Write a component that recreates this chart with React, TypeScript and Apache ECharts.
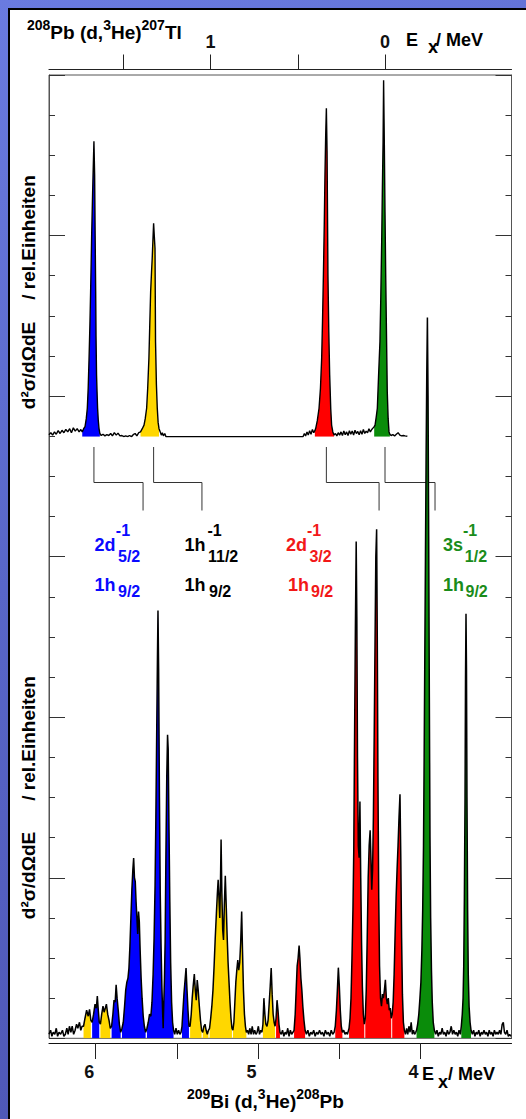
import React, { useEffect, useRef } from 'react';
import * as echarts from 'echarts';

// 209Bi(d,3He)208Pb spectrum: [Ex (MeV), counts in tick units]
const lowerSpectrum: [number, number][] = [
  [6.288,0.1],[6.278,0.2],[6.27,0.05],[6.262,0.15],[6.252,0.1],[6.243,0.25],[6.235,0.05],[6.226,0.15],[6.216,0.1],[6.205,0.2],[6.196,0.05],[6.187,0.1],[6.178,0.25],[6.17,0.1],[6.162,0.3],[6.153,0.15],[6.145,0.3],[6.136,0.1],[6.127,0.2],[6.118,0.35],[6.11,0.25],[6.1,0.4],[6.092,0.2],[6.084,0.3],
  [6.075,0.3],[6.066,0.5],[6.056,0.7],[6.046,0.55],[6.038,0.72],[6.03,0.45],
  [6.022,0.4],[6.013,0.6],[6.004,0.85],[5.996,0.75],[5.99,1.05],[5.984,0.7],[5.978,0.4],
  [5.971,0.35],[5.963,0.6],[5.955,0.8],[5.948,0.65],[5.941,0.75],[5.934,0.85],[5.926,0.6],[5.918,0.45],[5.91,0.25],
  [5.902,0.3],[5.894,0.6],[5.887,0.95],[5.88,0.9],[5.874,1.33],[5.868,1.0],[5.861,0.7],[5.854,0.35],[5.846,0.15],
  [5.838,0.25],[5.83,0.4],[5.822,0.8],[5.815,1.2],[5.808,1.4],[5.801,1.5],[5.795,1.75],[5.789,2.3],[5.783,3.0],[5.777,3.7],[5.771,4.2],[5.766,4.49],[5.761,4.0],[5.756,3.9],[5.751,3.4],[5.746,3.0],[5.741,2.6],[5.736,3.16],[5.731,2.9],[5.726,2.2],[5.72,1.5],[5.714,1.0],[5.707,0.55],[5.7,0.3],[5.692,0.15],
  [5.684,0.25],[5.676,0.4],[5.668,0.6],[5.66,0.55],[5.653,0.9],[5.646,1.6],[5.64,2.5],[5.634,3.8],[5.629,5.5],[5.624,7.6],[5.619,9.6],[5.616,10.66],[5.612,9.2],[5.607,6.0],[5.602,3.6],[5.597,2.3],[5.592,1.3],[5.587,0.6],[5.584,0.25],[5.58,0.9],[5.576,1.5],[5.572,2.4],[5.567,4.6],[5.562,6.5],[5.557,7.56],[5.553,7.2],[5.548,5.2],[5.543,3.4],[5.538,1.9],[5.532,0.9],[5.526,0.4],[5.52,0.2],
  [5.513,0.1],[5.505,0.25],[5.497,0.1],[5.489,0.2],[5.481,0.1],[5.474,0.15],
  [5.468,0.3],[5.462,0.7],[5.456,1.1],[5.45,1.4],[5.443,1.75],[5.437,1.2],[5.431,0.7],[5.425,0.3],
  [5.418,0.3],[5.411,0.6],[5.405,1.0],[5.399,1.3],[5.392,1.6],[5.386,1.2],[5.38,0.95],[5.374,1.45],[5.368,1.2],[5.361,0.8],[5.354,0.45],[5.347,0.2],
  [5.34,0.15],[5.333,0.3],[5.326,0.35],[5.319,0.2],[5.312,0.1],[5.305,0.2],
  [5.298,0.25],[5.291,0.5],[5.284,0.8],[5.277,1.2],[5.27,1.8],[5.263,2.5],[5.256,3.1],[5.25,3.6],[5.245,3.95],[5.24,3.5],[5.235,3.0],[5.231,3.8],[5.227,4.95],[5.222,3.6],[5.217,2.7],[5.212,2.45],[5.207,3.3],[5.201,4.05],[5.196,3.4],[5.19,2.6],[5.184,1.9],[5.178,1.4],[5.172,0.9],[5.166,0.5],[5.16,0.25],
  [5.154,0.2],[5.148,0.4],[5.142,0.9],[5.136,1.4],[5.13,1.7],[5.124,1.95],[5.118,1.7],[5.112,1.9],[5.106,2.4],[5.1,3.16],[5.095,2.2],[5.089,1.2],[5.083,0.6],[5.077,0.3],[5.071,0.15],
  [5.064,0.2],[5.057,0.1],[5.05,0.25],[5.042,0.1],[5.035,0.3],[5.027,0.1],[5.02,0.2],[5.012,0.1],[5.005,0.15],[4.997,0.3],[4.99,0.1],[4.982,0.2],[4.975,0.15],
  [4.969,0.35],[4.963,1.0],[4.957,0.6],[4.951,0.35],[4.944,0.3],[4.937,0.45],[4.93,0.9],[4.924,1.3],[4.918,1.75],[4.912,1.1],[4.906,0.6],[4.9,0.4],[4.894,0.3],
  [4.888,0.5],[4.882,0.95],[4.876,0.7],[4.87,0.35],[4.864,0.15],
  [4.856,0.1],[4.848,0.2],[4.84,0.05],[4.832,0.15],[4.824,0.1],[4.816,0.25],[4.808,0.05],[4.8,0.2],[4.792,0.1],[4.784,0.15],
  [4.777,0.2],[4.77,0.6],[4.764,1.2],[4.758,1.8],[4.752,2.0],[4.746,2.31],[4.741,2.0],[4.735,1.5],[4.729,1.2],[4.723,0.8],[4.716,0.45],[4.709,0.2],
  [4.701,0.1],[4.692,0.2],[4.683,0.05],[4.674,0.15],[4.665,0.1],[4.656,0.2],[4.647,0.05],[4.638,0.15],[4.629,0.1],[4.62,0.2],[4.611,0.1],[4.602,0.15],[4.593,0.05],[4.584,0.2],[4.575,0.1],[4.566,0.15],[4.557,0.05],[4.548,0.2],[4.539,0.1],[4.53,0.15],
  [4.523,0.3],[4.516,0.7],[4.51,1.2],[4.504,1.76],[4.498,1.3],[4.492,0.7],[4.486,0.3],[4.479,0.15],
  [4.471,0.2],[4.463,0.1],[4.455,0.15],[4.448,0.1],
  [4.438,0.25],[4.432,0.5],[4.426,1.0],[4.42,2.0],[4.414,3.2],[4.409,4.67],[4.404,7.5],[4.399,10.2],[4.394,12.38],[4.39,10.5],[4.386,7.0],[4.381,4.8],[4.376,4.5],[4.371,5.9],[4.366,4.0],[4.361,2.4],[4.356,1.3],[4.35,0.6],[4.344,0.35],
  [4.338,0.5],[4.332,1.2],[4.326,2.5],[4.32,4.0],[4.314,4.8],[4.308,5.18],[4.303,4.5],[4.298,3.7],[4.293,4.2],[4.288,5.5],[4.283,7.5],[4.278,9.8],[4.273,12.0],[4.268,12.68],[4.264,10.0],[4.26,6.5],[4.255,3.5],[4.25,1.8],[4.244,1.0],[4.238,0.8],[4.232,1.1],[4.226,1.0],[4.22,1.2],[4.214,1.46],[4.208,1.0],[4.202,0.85],[4.196,1.0],[4.19,0.7],[4.184,0.75],[4.178,0.5],
  [4.172,0.6],[4.166,0.9],[4.16,1.6],[4.154,2.6],[4.148,3.5],[4.142,4.2],[4.136,4.8],[4.13,5.5],[4.124,6.08],[4.119,4.5],[4.114,2.5],[4.109,1.1],[4.103,0.4],[4.097,0.2],
  [4.09,0.1],[4.083,0.25],[4.076,0.1],[4.069,0.3],[4.062,0.15],[4.055,0.4],[4.048,0.1],[4.041,0.2],[4.034,0.1],[4.027,0.15],
  [4.022,0.2],[4.015,0.35],[4.008,0.6],[4.001,1.0],[3.995,1.4],[3.989,2.2],[3.984,3.2],[3.979,4.8],[3.975,7.0],[3.971,9.5],[3.967,12.0],[3.963,14.5],[3.959,16.5],[3.955,17.96],[3.951,16.0],[3.947,12.5],[3.943,8.5],[3.939,5.0],[3.935,3.0],[3.93,1.7],[3.925,0.9],[3.919,0.4],[3.912,0.2],
  [3.904,0.1],[3.896,0.2],[3.888,0.05],[3.88,0.15],[3.872,0.1],[3.864,0.25],[3.856,0.1],[3.848,0.15],[3.84,0.05],[3.832,0.2],[3.824,0.1],[3.816,0.15],[3.808,0.3],[3.8,0.1],[3.792,0.2],[3.784,0.1],[3.776,0.15],[3.768,0.05],[3.76,0.2],[3.752,0.1],
  [3.746,0.3],[3.74,0.6],[3.735,1.0],[3.731,1.8],[3.727,3.5],[3.723,6.0],[3.72,9.0],[3.717,10.58],[3.714,9.2],[3.711,6.0],[3.707,3.2],[3.703,1.6],[3.698,0.8],[3.692,0.4],[3.686,0.2],
  [3.678,0.1],[3.67,0.2],[3.662,0.05],[3.654,0.15],[3.646,0.1],[3.638,0.2],[3.63,0.05],[3.622,0.15],[3.614,0.1],[3.606,0.2],[3.598,0.1],[3.59,0.15],[3.582,0.05],[3.574,0.2],[3.566,0.1],[3.558,0.15],[3.55,0.05],[3.542,0.2],[3.534,0.1],[3.526,0.15],[3.518,0.1],[3.51,0.2],[3.502,0.1],[3.494,0.35],[3.487,0.4],[3.48,0.15],[3.472,0.1],[3.464,0.2],[3.456,0.05],[3.448,0.1],[3.44,0.05],
];

// energy ranges [from, to, multiplet] that are shaded in the lower spectrum
const lowerBands: [number, number, string][] = [
  [6.075, 6.03, 'y'], [6.022, 5.978, 'b'], [5.971, 5.91, 'y'], [5.902, 5.846, 'b'],
  [5.838, 5.692, 'b'], [5.684, 5.52, 'b'], [5.468, 5.425, 'b'], [5.418, 5.347, 'y'],
  [5.34, 5.305, 'y'], [5.298, 5.16, 'y'], [5.154, 5.071, 'y'], [4.969, 4.894, 'y'],
  [4.888, 4.864, 'r'], [4.777, 4.709, 'r'], [4.523, 4.479, 'r'], [4.438, 4.344, 'r'],
  [4.338, 4.178, 'r'], [4.172, 4.097, 'r'], [4.022, 3.912, 'g'], [3.746, 3.686, 'g'],
];

// 208Pb(d,3He)207Tl spectrum: [Ex (MeV), counts in tick units]
const upperSpectrum: [number, number][] = [
  [1.926,0.05],[1.915,0.1],[1.905,0.04],[1.894,0.12],[1.884,0.06],[1.873,0.15],[1.862,0.08],[1.851,0.16],[1.84,0.1],[1.829,0.18],[1.818,0.12],[1.807,0.2],[1.797,0.1],[1.786,0.22],[1.775,0.14],[1.764,0.2],[1.753,0.12],[1.743,0.18],
  [1.735,0.12],[1.727,0.2],[1.719,0.25],[1.712,0.45],[1.706,0.71],[1.701,1.2],[1.696,1.95],[1.691,2.8],[1.687,3.62],[1.684,4.3],[1.681,5.03],[1.677,5.8],[1.673,6.53],[1.668,7.37],[1.664,6.53],[1.661,5.0],[1.658,3.62],[1.656,2.5],[1.653,1.54],[1.65,1.1],[1.647,0.71],[1.643,0.4],[1.639,0.21],[1.634,0.08],
  [1.626,0.03],[1.616,0.06],[1.605,0.02],[1.594,0.05],[1.583,0.03],[1.572,0.08],[1.562,0.02],[1.551,0.1],[1.54,0.04],[1.53,0.09],[1.519,0.02],[1.508,0.03],[1.497,0.0],[1.486,0.02],[1.475,0.0],[1.464,0.03],[1.453,0.0],[1.443,0.05],[1.432,0.08],[1.422,0.02],[1.411,0.1],
  [1.401,0.12],[1.391,0.2],[1.381,0.29],[1.374,0.45],[1.366,0.71],[1.36,1.2],[1.353,1.95],[1.348,2.8],[1.343,3.62],[1.338,4.1],[1.334,4.45],[1.33,4.9],[1.326,5.32],[1.322,5.0],[1.318,4.7],[1.315,2.37],[1.31,1.3],[1.305,0.71],[1.3,0.35],[1.295,0.2],
  [1.288,0.12],[1.282,0.04],[1.276,0.1],[1.27,0.02],[1.262,0.08],[1.255,0.0],
  [1.24,0],[0.47,0],
  [0.462,0.08],[0.455,0.02],[0.447,0.12],[0.44,0.04],[0.432,0.15],[0.424,0.06],[0.416,0.18],[0.408,0.1],
  [0.402,0.15],[0.397,0.21],[0.388,0.4],[0.378,0.71],[0.37,1.2],[0.363,1.95],[0.358,2.9],[0.353,4.03],[0.348,5.3],[0.344,6.53],[0.34,7.5],[0.336,8.19],[0.332,7.11],[0.327,4.03],[0.322,2.6],[0.317,1.54],[0.311,0.7],[0.306,0.29],[0.299,0.12],[0.292,0.04],
  [0.284,0.08],[0.276,0.02],[0.268,0.1],[0.26,0.04],[0.252,0.12],[0.244,0.03],[0.236,0.14],[0.228,0.05],[0.22,0.12],[0.212,0.03],[0.204,0.15],[0.196,0.06],[0.188,0.14],[0.18,0.04],[0.172,0.16],[0.164,0.08],[0.156,0.13],[0.148,0.05],[0.14,0.15],[0.132,0.06],[0.124,0.18],[0.116,0.08],[0.108,0.14],[0.1,0.1],[0.092,0.2],[0.084,0.12],[0.076,0.18],[0.068,0.22],
  [0.062,0.25],[0.057,0.29],[0.05,0.5],[0.044,0.71],[0.037,1.5],[0.029,2.37],[0.024,3.5],[0.019,4.86],[0.015,6.2],[0.011,7.36],[0.008,8.89],[0.004,7.36],[0.0,5.6],[-0.004,4.03],[-0.009,2.4],[-0.013,1.12],[-0.018,0.45],[-0.023,0.12],[-0.028,0.06],
  [-0.035,0.03],[-0.045,0.05],[-0.055,0.02],[-0.065,0.06],[-0.075,0.1],[-0.085,0.04],[-0.095,0.02],[-0.105,0.03],[-0.115,0.02],[-0.128,0.01],
];

const upperBands: [number, number, string][] = [
  [1.735, 1.634, 'b'], [1.401, 1.295, 'y'], [0.402, 0.292, 'r'], [0.062, -0.028, 'g'],
];

const groupColors: Record<string, string> = { b: '#0000ff', y: '#ffd700', r: '#ff0000', g: '#0a8c0a' };

const bottomTicks = [4, 4.5, 5, 5.5, 6];
const bottomLabels = [4, 5, 6];
const topTicks = [0, 0.5, 1, 1.5];
const topLabels = [0, 1];

// hole states in 207Tl and their position in the 208Pb spectrum
const linkTopE = [1.668, 1.326, 0.336, 0.0];
const linkBottomE = [5.708, 5.345, 4.253, 3.908];

const stateLabels = [
  { color: '#0a0aff', hole: '2d', holeJ: '5/2', x: 94.6, supX: 115.8, subX: 118, x2: 94.6, sub2X: 118 },
  { color: '#000000', hole: '1h', holeJ: '11/2', x: 184.6, supX: 207.4, subX: 208, x2: 184.6, sub2X: 209 },
  { color: '#f21818', hole: '2d', holeJ: '3/2', x: 286, supX: 307, subX: 309.4, x2: 288, sub2X: 311 },
  { color: '#1a8c1a', hole: '3s', holeJ: '1/2', x: 443, supX: 463, subX: 464.8, x2: 443, sub2X: 465.5 },
];

const FONT = '"Liberation Sans", Arial, Helvetica, sans-serif';

function txt(text: string, x: number, y: number, size: number, color = '#000', align = 'left', rotation = 0) {
  return {
    type: 'text', x, y, rotation, silent: true,
    style: { text, fill: color, fontSize: size, fontWeight: 'bold', fontFamily: FONT, align, verticalAlign: 'middle' },
  };
}

function richTitle(text: string, x: number, y: number) {
  return {
    type: 'text', x, y, silent: true,
    style: {
      text, align: 'left', verticalAlign: 'top',
      rich: {
        m: { fontSize: 19, fontWeight: 'bold', fontFamily: FONT, fill: '#000', lineHeight: 24, verticalAlign: 'bottom' },
        s: { fontSize: 14, fontWeight: 'bold', fontFamily: FONT, fill: '#000', verticalAlign: 'top' },
      },
    },
  };
}

export default function App() {
  const ref = useRef<HTMLDivElement>(null);
  useEffect(() => {
    const chart = echarts.init(ref.current!, null, { renderer: 'svg', width: 526, height: 1119 });

    const bandSeries = (spec: [number, number][], bands: [number, number, string][], xi: number, yi: number) =>
      bands.map(([hi, lo, g]) => ({
        type: 'line', xAxisIndex: xi, yAxisIndex: yi, silent: true, symbol: 'none', z: 2,
        data: spec.filter(([e]) => e <= hi && e >= lo),
        lineStyle: { width: 0, opacity: 0 },
        areaStyle: { color: groupColors[g], opacity: 1 },
      }));

    const yAxisBase = {
      type: 'value', min: 0, max: 24, interval: 4,
      axisLine: { show: true, lineStyle: { color: '#555', width: 1 } },
      axisTick: { show: true, inside: true, length: 16, lineStyle: { color: '#333', width: 1 } },
      minorTick: { show: true, splitNumber: 4, length: 6, lineStyle: { color: '#333', width: 1 } },
      axisLabel: { show: false }, splitLine: { show: false },
    };

    chart.setOption({
      animation: false,
      grid: [
        { left: 49, right: 14.5, top: 75, bottom: 80.7, show: true, borderColor: '#555', borderWidth: 1, backgroundColor: 'transparent' },
        { left: 49, right: 14.5, top: 75.8, bottom: 682.3 },
      ],
      xAxis: [
        {
          gridIndex: 0, type: 'value', position: 'bottom', min: 3.4365, max: 6.2879, inverse: true, offset: 4.7,
          axisLine: { show: true, onZero: false, lineStyle: { color: '#111', width: 1.2 } },
          axisTick: { show: true, customValues: bottomTicks, length: 16, lineStyle: { color: '#222', width: 1 } },
          axisLabel: { customValues: bottomLabels, margin: 20, fontSize: 18, fontWeight: 'bold', color: '#111', fontFamily: FONT, padding: [0, 13, 0, 0] },
          splitLine: { show: false },
        },
        {
          gridIndex: 1, type: 'value', position: 'top', min: -0.7249, max: 1.9255, inverse: true, offset: 6.3,
          axisLine: { show: true, onZero: false, lineStyle: { color: '#222', width: 1.2 } },
          axisTick: { show: true, customValues: topTicks, length: 15, lineStyle: { color: '#222', width: 1 } },
          axisLabel: { customValues: topLabels, margin: 19, fontSize: 18, fontWeight: 'bold', color: '#111', fontFamily: FONT },
          splitLine: { show: false },
        },
      ],
      yAxis: [
        { ...yAxisBase, gridIndex: 0, position: 'left' },
        { ...yAxisBase, gridIndex: 0, position: 'right' },
        { gridIndex: 1, type: 'value', min: 0, max: 9, show: false },
      ],
      series: [
        ...bandSeries(lowerSpectrum, lowerBands, 0, 0),
        ...bandSeries(upperSpectrum, upperBands, 1, 2),
        { type: 'line', xAxisIndex: 0, yAxisIndex: 0, data: lowerSpectrum, symbol: 'none', silent: true, z: 3, lineStyle: { color: '#000', width: 1.5 } },
        { type: 'line', xAxisIndex: 1, yAxisIndex: 2, data: upperSpectrum, symbol: 'none', silent: true, z: 3, lineStyle: { color: '#000', width: 1.4 } },
      ],
    });

    const connectors = linkTopE.map((et, i) => {
      const xt = chart.convertToPixel({ xAxisIndex: 1 }, et) as number;
      const xb = chart.convertToPixel({ xAxisIndex: 0 }, linkBottomE[i]) as number;
      return {
        type: 'polyline', silent: true,
        shape: { points: [[xt, 447], [xt, 482.5], [xb, 482.5], [xb, 510.5]] },
        style: { stroke: '#333', lineWidth: 1, fill: null },
      };
    });

    const labels: any[] = [];
    stateLabels.forEach((s) => {
      labels.push(txt(s.hole, s.x, 545, 18, s.color));
      labels.push(txt('-1', s.supX, 530, 16, s.color));
      labels.push(txt(s.holeJ, s.subX, 556, 16, s.color));
      labels.push(txt('1h', s.x2, 585, 18, s.color));
      labels.push(txt('9/2', s.sub2X, 591, 16, s.color));
    });

    chart.setOption({
      graphic: [
        ...connectors,
        ...labels,
        richTitle('{s|208}{m|Pb (d,}{s|3}{m|He)}{s|207}{m|Tl}', 27, 17.5),
        richTitle('{s|209}{m|Bi (d,}{s|3}{m|He)}{s|208}{m|Pb}', 187, 1086.5),
        txt('E', 406, 40.3, 18),
        txt('x', 428, 46.5, 18),
        txt('/ MeV', 436, 40.3, 18),
        txt('E', 422, 1073.5, 18),
        txt('x', 438, 1082, 18),
        txt('/ MeV', 448, 1073.5, 18),
        txt('/ rel.Einheiten', 28, 237.5, 19, '#000', 'center', Math.PI / 2),
        txt('d\u00b2\u03c3/d\u03a9dE', 28, 365.5, 19, '#000', 'center', Math.PI / 2),
        txt('/ rel.Einheiten', 28, 738.5, 19, '#000', 'center', Math.PI / 2),
        txt('d\u00b2\u03c3/d\u03a9dE', 28, 875.5, 19, '#000', 'center', Math.PI / 2),
      ],
    });

    return () => chart.dispose();
  }, []);

  return (
    <div style={{ position: 'fixed', left: 0, top: 0, width: 526, height: 1119, overflow: 'hidden',
      background: 'linear-gradient(160deg, #6a7be0 0%, #5866c8 45%, #4c53b2 100%)' }}>
      <div style={{ position: 'absolute', left: 8, top: 8, right: 0, bottom: 0, background: '#fff',
        borderLeft: '2px solid #000', borderTop: '2px solid #000' }} />
      <div ref={ref} style={{ position: 'absolute', left: 0, top: 0, width: 526, height: 1119 }} />
    </div>
  );
}
